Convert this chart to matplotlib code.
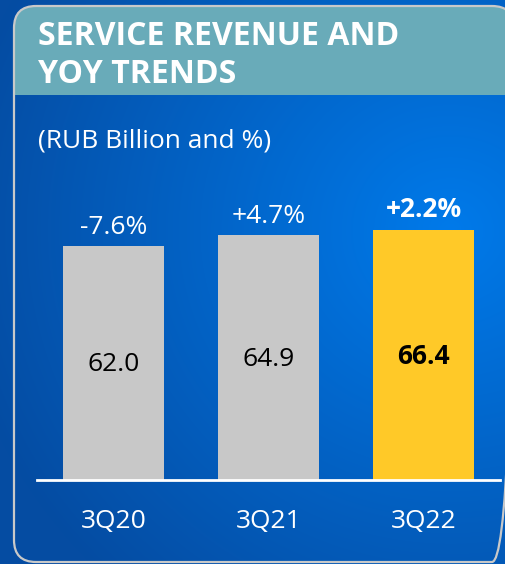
import numpy as np
import matplotlib
matplotlib.use("Agg")
import matplotlib.pyplot as plt
from matplotlib.patches import FancyBboxPatch, Rectangle

plt.rcParams['font.family'] = ['Open Sans', 'DejaVu Sans']

# data
quarters = ['3Q20', '3Q21', '3Q22']
revenue = [62.0, 64.9, 66.4]
yoy = ['-7.6%', '+4.7%', '+2.2%']
bar_colors = ['#c8c8c8', '#c8c8c8', '#ffc928']
highlight = [False, False, True]

W, H = 505, 564
fig = plt.figure(figsize=(W / 100, H / 100), dpi=100)

# background: blue gradient over the whole figure
bg = fig.add_axes([0, 0, 1, 1])
bg.set_xlim(0, W)
bg.set_ylim(H, 0)
bg.axis('off')
yy, xx = np.mgrid[0:H, 0:W]
d = np.sqrt(((xx - 450) / 500.0) ** 2 + ((yy - 230) / 480.0) ** 2)
t = np.clip(d, 0, 1)[..., None]
light = np.array([0x00, 0x7a, 0xea]) / 255.0
dark = np.array([0x05, 0x4c, 0xa2]) / 255.0
img = light * (1 - t) + dark * t
bg.imshow(img, extent=[0, W, H, 0], aspect='auto', zorder=0)

# panel outline and title banner
panel = FancyBboxPatch((14, 6), 500, 556, boxstyle='round,pad=0,rounding_size=22',
                       fc='none', ec='#c9c9c9', lw=1.6, zorder=3)
bg.add_patch(panel)
banner = Rectangle((14, 6), 500, 89, fc='#69abb9', ec='none', zorder=2)
bg.add_patch(banner)
banner.set_clip_path(panel)
bg.text(38, 45, 'SERVICE REVENUE AND', color='white', fontsize=23,
        fontweight='bold', va='baseline', zorder=4)
bg.text(38, 83, 'YOY TRENDS', color='white', fontsize=23,
        fontweight='bold', va='baseline', zorder=4)
bg.text(38, 148, '(RUB Billion and %)', color='white', fontsize=19,
        va='baseline', zorder=4)

# bar chart
ax = fig.add_axes([37 / W, (H - 480) / H, 463 / W, 290 / H])
ax.patch.set_alpha(0)
x = np.arange(len(quarters))
bars = ax.bar(x, revenue, width=0.652, color=bar_colors, zorder=2)
ax.set_xlim(-0.494, 2.494)
ax.set_ylim(0, 76.9)
for s in ['top', 'right', 'left']:
    ax.spines[s].set_visible(False)
ax.spines['bottom'].set_color('white')
ax.spines['bottom'].set_linewidth(2)
ax.set_yticks([])
ax.set_xticks(x)
ax.set_xticklabels(quarters, color='white', fontsize=19)
ax.tick_params(axis='x', length=0, pad=21)

for i, b in enumerate(bars):
    w = 'bold' if highlight[i] else 'normal'
    ax.text(b.get_x() + b.get_width() / 2, revenue[i] / 2 - 0.5, f'{revenue[i]:.1f}',
            ha='center', va='center', fontsize=19, color='black', fontweight=w)
    ax.annotate(yoy[i], (b.get_x() + b.get_width() / 2, revenue[i]),
                xytext=(0, 9), textcoords='offset points', ha='center',
                va='baseline', fontsize=19, color='white', fontweight=w)

fig.savefig('out.png', dpi=100)
